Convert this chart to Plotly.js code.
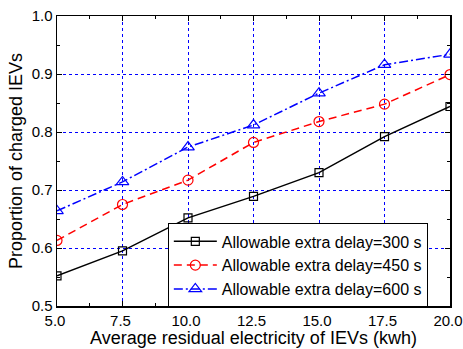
<!DOCTYPE html>
<html><head><meta charset="utf-8">
<script src="https://cdn.plot.ly/plotly-3.0.1.min.js"></script>
<style>html,body{margin:0;padding:0;background:#fff}</style>
</head><body>
<div id="chart" style="width:463px;height:349px"></div>
<script>
const xVals = [5.0, 7.5, 10.0, 12.5, 15.0, 17.5, 20.0];
const delay300 = [0.552, 0.595, 0.652, 0.689, 0.730, 0.792, 0.844];
const delay450 = [0.613, 0.675, 0.717, 0.782, 0.818, 0.848, 0.899];
const delay600 = [0.664, 0.714, 0.774, 0.812, 0.867, 0.916, 0.934];
const names = ['Allowable extra delay=300 s','Allowable extra delay=450 s','Allowable extra delay=600 s'];
const xTickVals = [5.0, 7.5, 10.0, 12.5, 15.0, 17.5, 20.0];
const xTickText = ['5.0','7.5','10.0','12.5','15.0','17.5','20.0'];
const yTickVals = [0.5,0.6,0.7,0.8,0.9,1.0];
const yTickText = ['0.5','0.6','0.7','0.8','0.9','1.0'];

const font = 'Liberation Sans, Arial, sans-serif';
const traces = [
  {x:xVals, y:delay300, name:names[0], mode:'lines+markers',
   line:{color:'#000000', width:1.5, dash:'solid'},
   marker:{symbol:'square-open', size:8, color:'#000000', line:{width:1.2}}},
  {x:xVals, y:delay450, name:names[1], mode:'lines+markers',
   line:{color:'#ff0000', width:1.5, dash:'8px,5px'},
   marker:{symbol:'circle-open', size:10, color:'#ff0000', line:{width:1.2}}},
  {x:xVals, y:delay600, name:names[2], mode:'lines+markers',
   line:{color:'#0000ff', width:1.5, dash:'9px,3px,2px,3px'},
   marker:{symbol:'triangle-up-open', size:11, color:'#0000ff', line:{width:1.2}}}
];
const axisCommon = {
  showline:true, linecolor:'#000', linewidth:1.5, mirror:'allticks',
  ticks:'inside', ticklen:5, tickcolor:'#000', tickwidth:1,
  showgrid:true, gridcolor:'#0000ff', gridwidth:1, griddash:'dot',
  zeroline:false, tickfont:{family:font, size:15, color:'#000'},
  ticklabeloverflow:'allow'
};
const layout = {
  width:463, height:349,
  margin:{l:57, r:13, t:16, b:43},
  paper_bgcolor:'#fff', plot_bgcolor:'#fff',
  font:{family:font, color:'#000'},
  showlegend:true,
  legend:{x:0.282, y:0.14, xanchor:'left', yanchor:'middle',
    bgcolor:'#fff', bordercolor:'#000', borderwidth:1, itemwidth:43,
    font:{family:font, size:16, color:'#000'}, tracegroupgap:0},
  xaxis:Object.assign({}, axisCommon, {
    range:[5,20], tickvals:xTickVals, ticktext:xTickText, ticklabelshift:-2,
    minor:{ticks:'inside', ticklen:3, dtick:1.25, tick0:5, tickcolor:'#000', showgrid:false},
    title:{text:'Average residual electricity of IEVs (kwh)', font:{family:font, size:18, color:'#000'}, standoff:2}
  }),
  yaxis:Object.assign({}, axisCommon, {
    range:[0.5,1.0], tickvals:yTickVals, ticktext:yTickText,
    minor:{ticks:'inside', ticklen:3, dtick:0.05, tick0:0.5, tickcolor:'#000', showgrid:false},
    title:{text:'Proportion of charged IEVs', font:{family:font, size:18, color:'#000'}, standoff:4}
  })
};
Plotly.newPlot('chart', traces, layout, {displayModeBar:false, staticPlot:true});
</script>
</body></html>
